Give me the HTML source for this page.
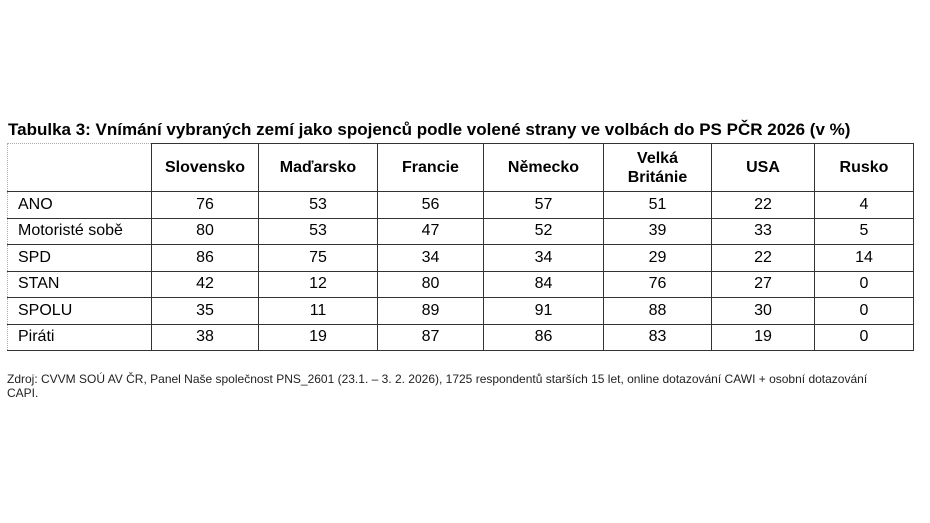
<!DOCTYPE html>
<html><head><meta charset="utf-8"><style>
body{margin:0;width:930px;height:523px;background:#fff;font-family:"Liberation Sans",Arial,sans-serif;color:#000;position:relative;overflow:hidden}
.t{position:absolute;left:8px;top:120px;font-size:17px;font-weight:bold;white-space:nowrap}
table{position:absolute;left:7px;top:143px;border-collapse:collapse;font-size:16px}
td,th{border:1.3px solid #333;padding:0;text-align:center}
th{height:47px;font-weight:bold;line-height:19px}
td{height:25.5px}
td:first-child{text-align:left;padding-left:10px;border-left:1px dotted #aaa}
th:first-child{border-left:1px dotted #aaa;border-top:1px dotted #aaa}
.f{position:absolute;left:7px;top:372px;font-size:12px;line-height:14px;width:875px;color:#222}
</style></head><body>
<div class="t">Tabulka 3: Vnímání vybraných zemí jako spojenců podle volené strany ve volbách do PS PČR 2026 (v %)</div>
<table>
<colgroup><col style="width:144px"><col style="width:107px"><col style="width:119px"><col style="width:106px"><col style="width:120px"><col style="width:108px"><col style="width:103px"><col style="width:99px"></colgroup>
<tr><th></th><th>Slovensko</th><th>Maďarsko</th><th>Francie</th><th>Německo</th><th>Velká<br>Británie</th><th>USA</th><th>Rusko</th></tr>
<tr><td>ANO</td><td>76</td><td>53</td><td>56</td><td>57</td><td>51</td><td>22</td><td>4</td></tr>
<tr><td>Motoristé sobě</td><td>80</td><td>53</td><td>47</td><td>52</td><td>39</td><td>33</td><td>5</td></tr>
<tr><td>SPD</td><td>86</td><td>75</td><td>34</td><td>34</td><td>29</td><td>22</td><td>14</td></tr>
<tr><td>STAN</td><td>42</td><td>12</td><td>80</td><td>84</td><td>76</td><td>27</td><td>0</td></tr>
<tr><td>SPOLU</td><td>35</td><td>11</td><td>89</td><td>91</td><td>88</td><td>30</td><td>0</td></tr>
<tr><td>Piráti</td><td>38</td><td>19</td><td>87</td><td>86</td><td>83</td><td>19</td><td>0</td></tr>
</table>
<div class="f">Zdroj: CVVM SOÚ AV ČR, Panel Naše společnost PNS_2601 (23.1. – 3. 2. 2026), 1725 respondentů starších 15 let, online dotazování CAWI + osobní dotazování CAPI.</div>
</body></html>
